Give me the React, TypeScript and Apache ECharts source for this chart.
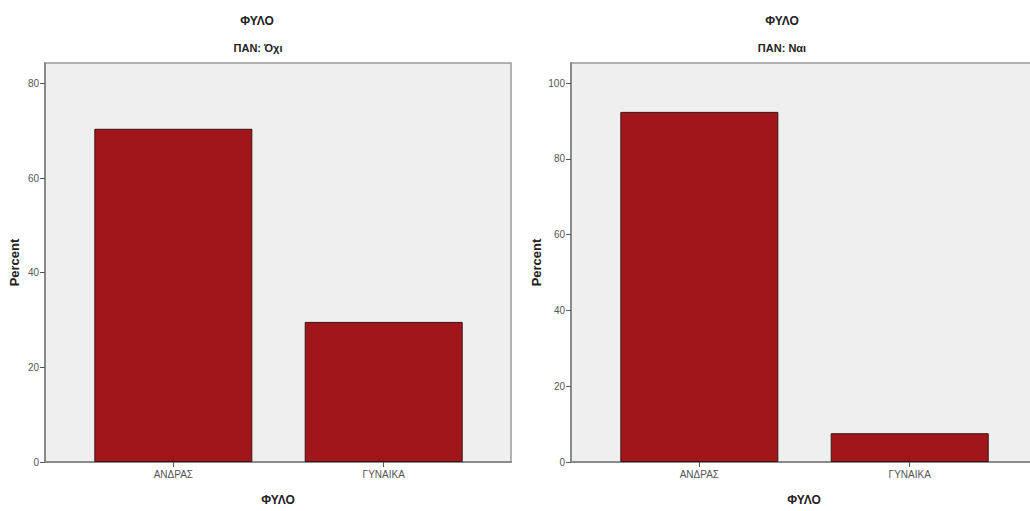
import React, { useEffect, useRef } from 'react';
import * as echarts from 'echarts';

const categories = ['ΑΝΔΡΑΣ', 'ΓΥΝΑΙΚΑ'];
const percentNo = [70.4, 29.6];
const percentYes = [92.4, 7.6];
const panelTitles = ['ΠΑΝ: Όχι', 'ΠΑΝ: Ναι'];
const mainTitle = 'ΦΥΛΟ';
const xAxisTitle = 'ΦΥΛΟ';
const yAxisTitle = 'Percent';
const yTicksNo = [0, 20, 40, 60, 80];
const yTicksYes = [0, 20, 40, 60, 80, 100];
const yMaxNo = 84.3;
const yMaxYes = 105.3;

const BAR = '#a0161a';
const NARROW = '"Liberation Sans Narrow", "Arial Narrow", "Liberation Sans", sans-serif';
const SANS = '"Liberation Sans", Arial, sans-serif';

export default function App() {
  const ref = useRef<HTMLDivElement>(null);
  useEffect(() => {
    if (!ref.current) return;
    const chart = echarts.init(ref.current, undefined, { renderer: 'svg' });
    const grids = [
      { left: 45, top: 63, width: 466, height: 400 },
      { left: 571, top: 63, width: 466, height: 400 },
    ];
    const xAxisFor = (i: number) => ({
      type: 'value',
      gridIndex: i,
      min: -0.61,
      max: 1.605,
      splitLine: { show: false },
      axisLine: { show: true, onZero: false, lineStyle: { color: '#8a8a8a', width: 2 } },
      axisTick: { show: true, customValues: [0, 1], length: 5, lineStyle: { color: '#555', width: 1 } },
      axisLabel: {
        customValues: [0, 1],
        formatter: (v: number) => categories[Math.round(v)] ?? '',
        fontFamily: NARROW,
        fontSize: 10,
        color: '#555',
        margin: 7,
      },
      name: xAxisTitle,
      nameLocation: 'middle',
      nameGap: 32,
      nameTextStyle: { fontFamily: SANS, fontWeight: 'bold', fontSize: 12, color: '#222' },
    });
    const yAxisFor = (i: number, max: number, ticks: number[], gap: number) => ({
      type: 'value',
      gridIndex: i,
      min: 0,
      max,
      splitLine: { show: false },
      axisLine: { show: true, onZero: false, lineStyle: { color: '#8a8a8a', width: 2 } },
      axisTick: { show: true, customValues: ticks, length: 5, lineStyle: { color: '#555', width: 1 } },
      axisLabel: { customValues: ticks, fontFamily: NARROW, fontSize: 10, color: '#555', margin: 6 },
      name: yAxisTitle,
      nameLocation: 'middle',
      nameRotate: 90,
      nameGap: gap,
      nameTextStyle: { fontFamily: SANS, fontWeight: 'bold', fontSize: 13, color: '#222' },
    });
    const seriesFor = (i: number, vals: number[]) => ({
      type: 'bar',
      xAxisIndex: i,
      yAxisIndex: i,
      barWidth: 158,
      data: vals.map((v, k) => [k, v]),
      itemStyle: { color: BAR, borderColor: '#3a1515', borderWidth: 1 },
    });
    const titleText = (x: number, text: string, y: number, size: number, font: string) => ({
      type: 'text',
      x,
      y,
      style: {
        text,
        fontFamily: font,
        fontWeight: 'bold',
        fontSize: size,
        fill: '#222',
        align: 'center',
        verticalAlign: 'middle',
      },
    });
    chart.setOption({
      animation: false,
      backgroundColor: '#ffffff',
      grid: grids.map((g) => ({
        ...g,
        show: true,
        backgroundColor: '#efefef',
        borderColor: '#9a9a9a',
        borderWidth: 1.5,
      })),
      xAxis: [xAxisFor(0), xAxisFor(1)],
      yAxis: [yAxisFor(0, yMaxNo, yTicksNo, 24), yAxisFor(1, yMaxYes, yTicksYes, 28)],
      series: [seriesFor(0, percentNo), seriesFor(1, percentYes)],
      graphic: [
        titleText(257, mainTitle, 21, 12, SANS),
        titleText(258, panelTitles[0], 48, 11, NARROW),
        titleText(782, mainTitle, 21, 12, SANS),
        titleText(782, panelTitles[1], 48, 11, NARROW),
      ],
    });
    return () => chart.dispose();
  }, []);
  return (
    <div style={{ position: 'fixed', left: 0, top: 0, width: 1030, height: 511, overflow: 'hidden' }}>
      <div ref={ref} style={{ width: 1045, height: 511 }} />
    </div>
  );
}
